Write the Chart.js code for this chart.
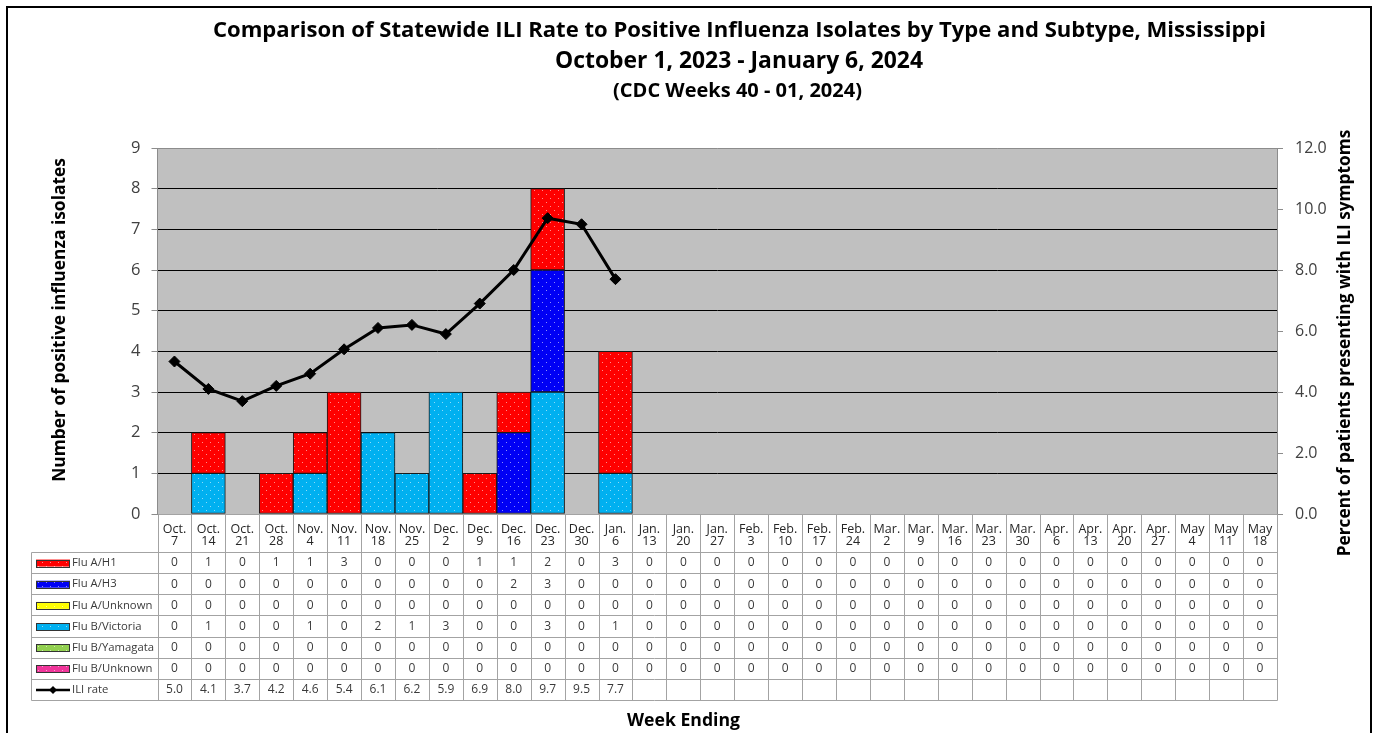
<!DOCTYPE html>
<html>
<head>
<meta charset="utf-8">
<title>Statewide ILI Rate and Positive Influenza Isolates, Mississippi</title>
<script src="https://cdn.jsdelivr.net/npm/chart.js@4.4.1/dist/chart.umd.min.js"></script>
<style>
  html, body { margin: 0; padding: 0; background: #ffffff; }
  canvas { display: block; }
</style>
</head>
<body>
<canvas id="fluChart" width="1378" height="733"></canvas>
<script>
// Week-ending dates (tick labels, "Month. day")
const weeks = [
  'Oct. 7', 'Oct. 14', 'Oct. 21', 'Oct. 28', 'Nov. 4', 'Nov. 11', 'Nov. 18', 'Nov. 25',
  'Dec. 2', 'Dec. 9', 'Dec. 16', 'Dec. 23', 'Dec. 30', 'Jan. 6', 'Jan. 13', 'Jan. 20',
  'Jan. 27', 'Feb. 3', 'Feb. 10', 'Feb. 17', 'Feb. 24', 'Mar. 2', 'Mar. 9', 'Mar. 16',
  'Mar. 23', 'Mar. 30', 'Apr. 6', 'Apr. 13', 'Apr. 20', 'Apr. 27', 'May 4', 'May 11', 'May 18'
];

// Positive isolates per week, by type/subtype
const fluAH1 = [0,1,0,1,1,3,0,0,0,1,1,2,0,3,0,0,0,0,0,0,0,0,0,0,0,0,0,0,0,0,0,0,0];
const fluAH3 = [0,0,0,0,0,0,0,0,0,0,2,3,0,0,0,0,0,0,0,0,0,0,0,0,0,0,0,0,0,0,0,0,0];
const fluAUnknown = [0,0,0,0,0,0,0,0,0,0,0,0,0,0,0,0,0,0,0,0,0,0,0,0,0,0,0,0,0,0,0,0,0];
const fluBVictoria = [0,1,0,0,1,0,2,1,3,0,0,3,0,1,0,0,0,0,0,0,0,0,0,0,0,0,0,0,0,0,0,0,0];
const fluBYamagata = [0,0,0,0,0,0,0,0,0,0,0,0,0,0,0,0,0,0,0,0,0,0,0,0,0,0,0,0,0,0,0,0,0];
const fluBUnknown = [0,0,0,0,0,0,0,0,0,0,0,0,0,0,0,0,0,0,0,0,0,0,0,0,0,0,0,0,0,0,0,0,0];

// Statewide ILI rate (% of patients), reported weeks only
const iliRate = [5.0,4.1,3.7,4.2,4.6,5.4,6.1,6.2,5.9,6.9,8.0,9.7,9.5,7.7,
  null,null,null,null,null,null,null,null,null,null,null,null,null,null,null,null,null,null,null];

// Axis tick values
const countTicks = [0,1,2,3,4,5,6,7,8,9];
const rateTicks = [0,2,4,6,8,10,12];

const FONT = '"Open Sans", "Noto Sans", "DejaVu Sans", sans-serif';
Chart.defaults.font.family = FONT;

const canvas = document.getElementById('fluChart');
const mainCtx = canvas.getContext('2d');

// Solid fill sprinkled with small light dots
function dotted(color) {
  const tile = document.createElement('canvas');
  tile.width = 8; tile.height = 8;
  const g = tile.getContext('2d');
  g.fillStyle = color;
  g.fillRect(0, 0, 8, 8);
  g.fillStyle = 'rgba(255,255,255,0.55)';
  g.fillRect(2, 2, 1, 1);
  g.fillRect(6, 6, 1, 1);
  return mainCtx.createPattern(tile, 'repeat');
}

const colors = {
  h1: '#ff0000', h3: '#0000f5', aUnk: '#ffff00',
  bVic: '#00b0f0', bYam: '#92d050', bUnk: '#f0359a'
};
const fills = {};
Object.keys(colors).forEach(k => { fills[k] = dotted(colors[k]); });

// Rows of the data table under the chart
const tableRows = [
  { name: 'Flu A/H1', values: fluAH1, key: 'h1' },
  { name: 'Flu A/H3', values: fluAH3, key: 'h3' },
  { name: 'Flu A/Unknown', values: fluAUnknown, key: 'aUnk' },
  { name: 'Flu B/Victoria', values: fluBVictoria, key: 'bVic' },
  { name: 'Flu B/Yamagata', values: fluBYamagata, key: 'bYam' },
  { name: 'Flu B/Unknown', values: fluBUnknown, key: 'bUnk' },
  { name: 'ILI rate', values: iliRate, key: null }
];

function barSet(label, data, key) {
  return {
    type: 'bar', label, data, order: 1, stack: 'isolates', yAxisID: 'y',
    backgroundColor: fills[key], borderColor: '#1a1a1a', borderWidth: 1,
    borderSkipped: false, barPercentage: 1, categoryPercentage: 1
  };
}

function drawFitted(ctx, text, x, y, size, width, rotation) {
  ctx.save();
  ctx.font = 'bold ' + size + 'px ' + FONT;
  const w = ctx.measureText(text).width;
  const s = Math.max(0.8, Math.min(1.2, width / w)) * size;
  ctx.font = 'bold ' + s.toFixed(2) + 'px ' + FONT;
  ctx.translate(x, y);
  if (rotation) ctx.rotate(rotation);
  ctx.fillStyle = '#000';
  ctx.textAlign = 'center';
  ctx.textBaseline = 'middle';
  ctx.fillText(text, 0, 0);
  ctx.restore();
}

const chartDecor = {
  id: 'chartDecor',
  beforeDraw(chart) {
    const { ctx, chartArea: a } = chart;
    ctx.save();
    ctx.fillStyle = '#ffffff';
    ctx.fillRect(0, 0, chart.width, chart.height);
    ctx.fillStyle = '#c0c0c0';
    ctx.fillRect(a.left, a.top, a.right - a.left, a.bottom - a.top);
    ctx.restore();
  },
  afterDraw(chart) {
    const { ctx, chartArea: a } = chart;
    const xs = chart.scales.x;
    const n = weeks.length;
    const step = xs.getPixelForValue(1) - xs.getPixelForValue(0);
    const edges = [];
    for (let i = 0; i < n; i++) edges.push(xs.getPixelForValue(i) - step / 2);
    edges.push(a.right);

    const headerBottom = a.bottom + 38;
    const rowH = 21.15;
    const tableBottom = headerBottom + rowH * tableRows.length;
    const legendLeft = 31.5;
    const px = v => Math.round(v) + 0.5;

    ctx.save();
    // table grid
    ctx.strokeStyle = '#a3a3a3';
    ctx.lineWidth = 1;
    ctx.beginPath();
    ctx.moveTo(px(edges[0]), px(a.bottom));
    ctx.lineTo(px(edges[n]), px(a.bottom));
    for (let r = 0; r <= tableRows.length; r++) {
      const y = px(headerBottom + r * rowH);
      ctx.moveTo(legendLeft, y);
      ctx.lineTo(px(edges[n]), y);
    }
    edges.forEach(x => {
      ctx.moveTo(px(x), px(a.bottom));
      ctx.lineTo(px(x), px(tableBottom));
    });
    ctx.moveTo(legendLeft, px(headerBottom));
    ctx.lineTo(legendLeft, px(tableBottom));
    ctx.stroke();

    // legend keys and row values
    ctx.textBaseline = 'middle';
    tableRows.forEach((row, r) => {
      const cy = headerBottom + r * rowH + rowH / 2 + 0.5;
      if (row.key) {
        ctx.fillStyle = fills[row.key];
        ctx.fillRect(36, cy - 3.5, 34, 7);
        ctx.strokeStyle = '#333';
        ctx.lineWidth = 1;
        ctx.strokeRect(36.5, Math.round(cy - 3.5) + 0.5, 33, 7);
      } else {
        ctx.strokeStyle = '#000';
        ctx.lineWidth = 2.5;
        ctx.beginPath();
        ctx.moveTo(36, cy); ctx.lineTo(70, cy);
        ctx.stroke();
        ctx.fillStyle = '#000';
        ctx.beginPath();
        ctx.moveTo(53, cy - 4); ctx.lineTo(57, cy); ctx.lineTo(53, cy + 4); ctx.lineTo(49, cy);
        ctx.closePath(); ctx.fill();
      }
      ctx.fillStyle = '#3a3a3a';
      ctx.font = '11.3px ' + FONT;
      ctx.textAlign = 'left';
      ctx.fillText(row.name, 72, cy);
      ctx.font = '12px ' + FONT;
      ctx.textAlign = 'center';
      row.values.forEach((v, i) => {
        if (v === null || v === undefined) return;
        const txt = row.key ? String(v) : v.toFixed(1);
        ctx.fillText(txt, xs.getPixelForValue(i), cy);
      });
    });
    ctx.restore();

    // titles
    drawFitted(ctx, 'Comparison of Statewide ILI Rate to Positive Influenza Isolates by Type and Subtype, Mississippi', 739.5, 30.5, 20.5, 1053);
    drawFitted(ctx, 'October 1, 2023 - January 6, 2024', 739, 61.5, 20.5, 368);
    drawFitted(ctx, '(CDC Weeks 40 - 01, 2024)', 737.5, 91, 17, 249);

    // axis titles
    drawFitted(ctx, 'Number of positive influenza isolates', 60, 320, 16.5, 324, -Math.PI / 2);
    drawFitted(ctx, 'Percent of patients presenting with ILI symptoms', 1345, 343, 16.5, 427, -Math.PI / 2);
    drawFitted(ctx, 'Week Ending', 683.5, 721, 16.5, 113);

    // outer frame
    ctx.save();
    ctx.strokeStyle = '#000';
    ctx.lineWidth = 2;
    ctx.strokeRect(7, 7, 1364, 760);
    ctx.restore();
  }
};

new Chart(canvas, {
  data: {
    labels: weeks.map(w => w.split(' ')),
    datasets: [
      barSet('Flu B/Victoria', fluBVictoria, 'bVic'),
      barSet('Flu B/Yamagata', fluBYamagata, 'bYam'),
      barSet('Flu B/Unknown', fluBUnknown, 'bUnk'),
      barSet('Flu A/Unknown', fluAUnknown, 'aUnk'),
      barSet('Flu A/H3', fluAH3, 'h3'),
      barSet('Flu A/H1', fluAH1, 'h1'),
      {
        type: 'line', label: 'ILI rate', data: iliRate, order: 0, yAxisID: 'y1',
        borderColor: '#000', borderWidth: 3, pointStyle: 'rectRot', pointRadius: 5.5,
        pointBackgroundColor: '#000', pointBorderColor: '#000', pointBorderWidth: 1,
        spanGaps: false, tension: 0
      }
    ]
  },
  options: {
    responsive: false,
    animation: false,
    devicePixelRatio: 1,
    layout: { padding: { top: 148, left: 0, right: 0, bottom: 0 } },
    plugins: { legend: { display: false }, tooltip: { enabled: false }, title: { display: false } },
    events: [],
    scales: {
      x: {
        type: 'category',
        stacked: true,
        offset: true,
        grid: { display: false, drawTicks: false },
        border: { display: false },
        ticks: {
          color: '#262626', font: { size: 12.5, lineHeight: 1.0 }, padding: 9,
          maxRotation: 0, autoSkip: false
        },
        afterFit(scale) { scale.height = 733 - 514; }
      },
      y: {
        position: 'left',
        stacked: true,
        min: countTicks[0],
        max: countTicks[countTicks.length - 1],
        afterBuildTicks(scale) { scale.ticks = countTicks.map(v => ({ value: v })); },
        grid: {
          color: c => (c.tick && (c.tick.value === 0 || c.tick.value === 9)) ? '#8c8c8c' : '#000000',
          tickColor: '#8c8c8c', tickLength: 6, lineWidth: 1
        },
        border: { color: '#8c8c8c', width: 1 },
        ticks: { color: '#404040', font: { size: 16.5 }, padding: 11 },
        afterFit(scale) { scale.width = 157.5; }
      },
      y1: {
        position: 'right',
        min: rateTicks[0],
        max: rateTicks[rateTicks.length - 1],
        afterBuildTicks(scale) { scale.ticks = rateTicks.map(v => ({ value: v })); },
        grid: { drawOnChartArea: false, tickColor: '#8c8c8c', tickLength: 6 },
        border: { color: '#8c8c8c', width: 1 },
        ticks: { color: '#404040', font: { size: 16 }, padding: 12, callback: v => Number(v).toFixed(1) },
        afterFit(scale) { scale.width = 1378 - 1277; }
      }
    }
  },
  plugins: [chartDecor]
});
</script>
</body>
</html>
